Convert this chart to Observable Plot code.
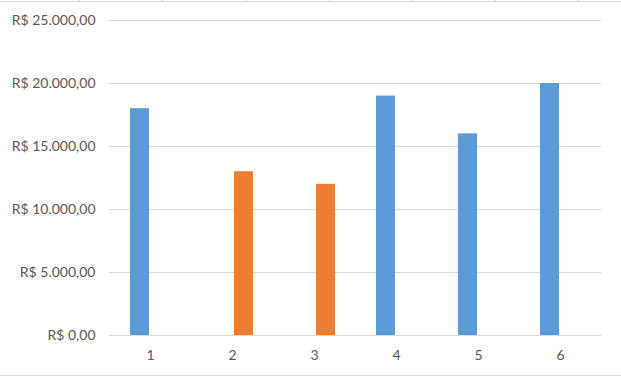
<!DOCTYPE html>
<html>
<head>
<meta charset="utf-8">
<script src="https://cdn.jsdelivr.net/npm/d3@7"></script>
<script src="https://cdn.jsdelivr.net/npm/@observablehq/plot@0.6"></script>
<style>
  html, body { margin: 0; padding: 0; background: #fff; }
  #wrap { position: relative; width: 621px; height: 377px; overflow: hidden; }
  .hline { position: absolute; left: 0; width: 621px; height: 1px; background: #d9d9d9; }
  .vtick { position: absolute; top: 0; width: 1px; height: 2px; background: #d9d9d9; }
</style>
</head>
<body>
<div id="wrap"></div>
<script>
const categories = ["1", "2", "3", "4", "5", "6"];
const seriesNames = ["Série1", "Série2"];
const series1 = [18000, null, null, 19000, 16000, 20000];
const series2 = [null, 13000, 12000, null, null, null];
const seriesColors = ["#5b9bd5", "#ed7d31"];
const yTicks = [0, 5000, 10000, 15000, 20000, 25000];

const data = [];
categories.forEach((c, i) => {
  if (series1[i] != null) data.push({cat: c, series: seriesNames[0], value: series1[i]});
  if (series2[i] != null) data.push({cat: c, series: seriesNames[1], value: series2[i]});
});

const br = d3.formatLocale({decimal: ",", thousands: ".", grouping: [3], currency: ["R$ ", ""]});
const fmt = br.format("$,.2f");

const chart = Plot.plot({
  width: 621,
  height: 377,
  marginLeft: 107,
  marginRight: 18,
  marginTop: 20,
  marginBottom: 42,
  style: {fontFamily: "Lato, 'Liberation Sans', Arial, sans-serif", fontSize: "14px", color: "#595959", background: "transparent"},
  fx: {domain: categories, padding: 0, label: null, tickSize: 0, tickPadding: 15, axis: "bottom"},
  x: {domain: seriesNames, paddingInner: 0.15, paddingOuter: 0.9, axis: null},
  y: {domain: [0, 25000], ticks: yTicks, tickFormat: fmt, tickSize: 0, tickPadding: 14, label: null},
  color: {domain: seriesNames, range: seriesColors},
  marks: [
    Plot.gridY(yTicks, {stroke: "#d9d9d9", strokeOpacity: 1, strokeWidth: 1}),
    Plot.barY(data, {fx: "cat", x: "series", y: "value", fill: "series"})
  ]
});

const wrap = document.getElementById("wrap");
wrap.appendChild(chart);
chart.style.position = "absolute";
chart.style.left = "0";
chart.style.top = "0";

// spreadsheet cell borders around the chart object
const topLine = document.createElement("div");
topLine.className = "hline"; topLine.style.top = "1px"; wrap.appendChild(topLine);
const bottomLine = document.createElement("div");
bottomLine.className = "hline"; bottomLine.style.top = "375px"; wrap.appendChild(bottomLine);
[79, 162, 246, 329, 412, 495, 578].forEach(x => {
  const v = document.createElement("div");
  v.className = "vtick"; v.style.left = x + "px"; wrap.appendChild(v);
});
</script>
</body>
</html>
